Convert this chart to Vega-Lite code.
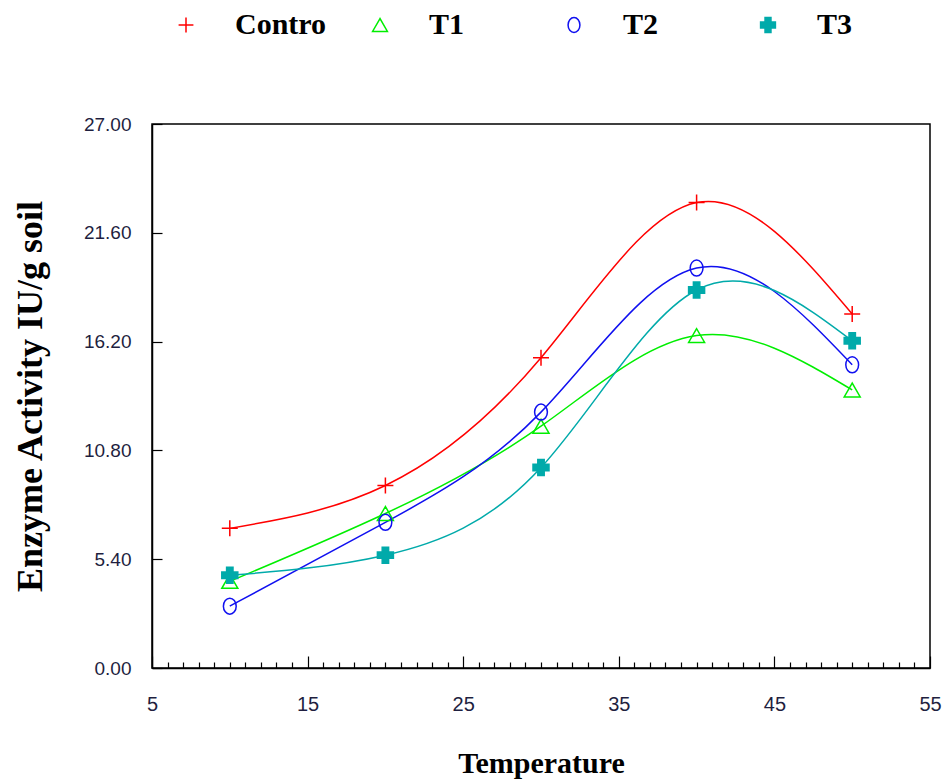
{
  "$schema": "https://vega.github.io/schema/vega-lite/v6.json",
  "width": 778,
  "height": 544,
  "autosize": {"type": "none"},
  "padding": {"left": 152, "top": 124, "right": 15, "bottom": 111},
  "background": "white",
  "config": {
    "view": {"stroke": "black", "strokeWidth": 1.5},
    "axis": {"grid": false, "domainColor": "black", "domainWidth": 1.5, "tickColor": "black", "tickWidth": 1.2, "labelOverlap": false, "labelFlush": false},
    "legend": {
      "orient": "none", "legendX": 19, "legendY": -114, "direction": "horizontal",
      "gridAlign": "all", "columnPadding": 38, "labelOffset": 34,
      "symbolSize": 220, "symbolStrokeWidth": 1.5,
      "labelFont": "Liberation Serif", "labelFontSize": 30, "labelFontWeight": "bold", "labelColor": "black", "labelLimit": 0
    }
  },
  "data": {
    "values": [
      {"series": "Contro", "temp": 10, "value": 6.93},
      {"series": "Contro", "temp": 20, "value": 9.06},
      {"series": "Contro", "temp": 30, "value": 15.4},
      {"series": "Contro", "temp": 40, "value": 23.1},
      {"series": "Contro", "temp": 50, "value": 17.57},
      {"series": "T1", "temp": 10, "value": 4.3},
      {"series": "T1", "temp": 20, "value": 7.67},
      {"series": "T1", "temp": 30, "value": 12.0},
      {"series": "T1", "temp": 40, "value": 16.5},
      {"series": "T1", "temp": 50, "value": 13.8},
      {"series": "T2", "temp": 10, "value": 3.07},
      {"series": "T2", "temp": 20, "value": 7.23},
      {"series": "T2", "temp": 30, "value": 12.7},
      {"series": "T2", "temp": 40, "value": 19.85},
      {"series": "T2", "temp": 50, "value": 15.05},
      {"series": "T3", "temp": 10, "value": 4.6},
      {"series": "T3", "temp": 20, "value": 5.6},
      {"series": "T3", "temp": 30, "value": 9.95},
      {"series": "T3", "temp": 40, "value": 18.76},
      {"series": "T3", "temp": 50, "value": 16.24}
    ]
  },
  "layer": [
    {
      "mark": {"type": "line", "interpolate": "natural", "strokeWidth": 1.5},
      "encoding": {
        "x": {
          "field": "temp", "type": "quantitative",
          "scale": {"domain": [5, 55], "nice": false, "zero": false},
          "axis": {
            "values": [5,6,7,8,9,10,11,12,13,14,15,16,17,18,19,20,21,22,23,24,25,26,27,28,29,30,31,32,33,34,35,36,37,38,39,40,41,42,43,44,45,46,47,48,49,50,51,52,53,54,55],
            "tickCount": 200,
            "format": "d",
            "labelExpr": "datum.value % 10 == 5 ? datum.label : ''",
            "tickSize": {"condition": {"test": "datum.value % 10 == 5", "value": -12}, "value": -6},
            "labelPadding": 38,
            "labelFont": "Liberation Sans Narrow, Arial Narrow, Liberation Sans, sans-serif",
            "labelFontSize": 20,
            "labelColor": "#1f1f3f",
            "title": "Temperature",
            "titleFont": "Liberation Serif",
            "titleFontSize": 30,
            "titleFontWeight": "bold",
            "titleColor": "black",
            "titlePadding": 28
          }
        },
        "y": {
          "field": "value", "type": "quantitative",
          "scale": {"domain": [0, 27], "nice": false},
          "axis": {
            "values": [0, 5.4, 10.8, 16.2, 21.6, 27],
            "tickCount": 50,
            "format": ".2f",
            "tickSize": -10,
            "labelPadding": 31,
            "labelFont": "Liberation Sans, Arial, sans-serif",
            "labelFontSize": 19,
            "labelColor": "#1f1f3f",
            "title": "Enzyme Activity IU/g soil",
            "titleFont": "Liberation Serif",
            "titleFontSize": 36,
            "titleFontWeight": "bold",
            "titleColor": "black",
            "titlePadding": 34
          }
        },
        "stroke": {
          "field": "series", "type": "nominal",
          "scale": {"domain": ["Contro", "T1", "T2", "T3"], "range": ["#FF0000", "#00EE00", "#1010F0", "#00AAAA"]},
          "legend": {"title": null}
        }
      }
    },
    {
      "mark": {"type": "point", "filled": true, "opacity": 1, "strokeWidth": 1.5, "size": 256},
      "encoding": {
        "x": {"field": "temp", "type": "quantitative"},
        "y": {"field": "value", "type": "quantitative"},
        "shape": {
          "field": "series", "type": "nominal",
          "scale": {"domain": ["Contro", "T1", "T2", "T3"], "range": ["M-1,0L1,0M0,-1L0,1", "triangle-up", "M0,-1A0.8,1 0 1,1 0,1A0.8,1 0 1,1 0,-1Z", "cross"]},
          "legend": {"title": null}
        },
        "stroke": {
          "field": "series", "type": "nominal",
          "legend": {"title": null}
        },
        "fill": {
          "field": "series", "type": "nominal",
          "scale": {"domain": ["Contro", "T1", "T2", "T3"], "range": ["transparent", "transparent", "transparent", "#00AAAA"]},
          "legend": {"title": null}
        }
      }
    }
  ]
}
